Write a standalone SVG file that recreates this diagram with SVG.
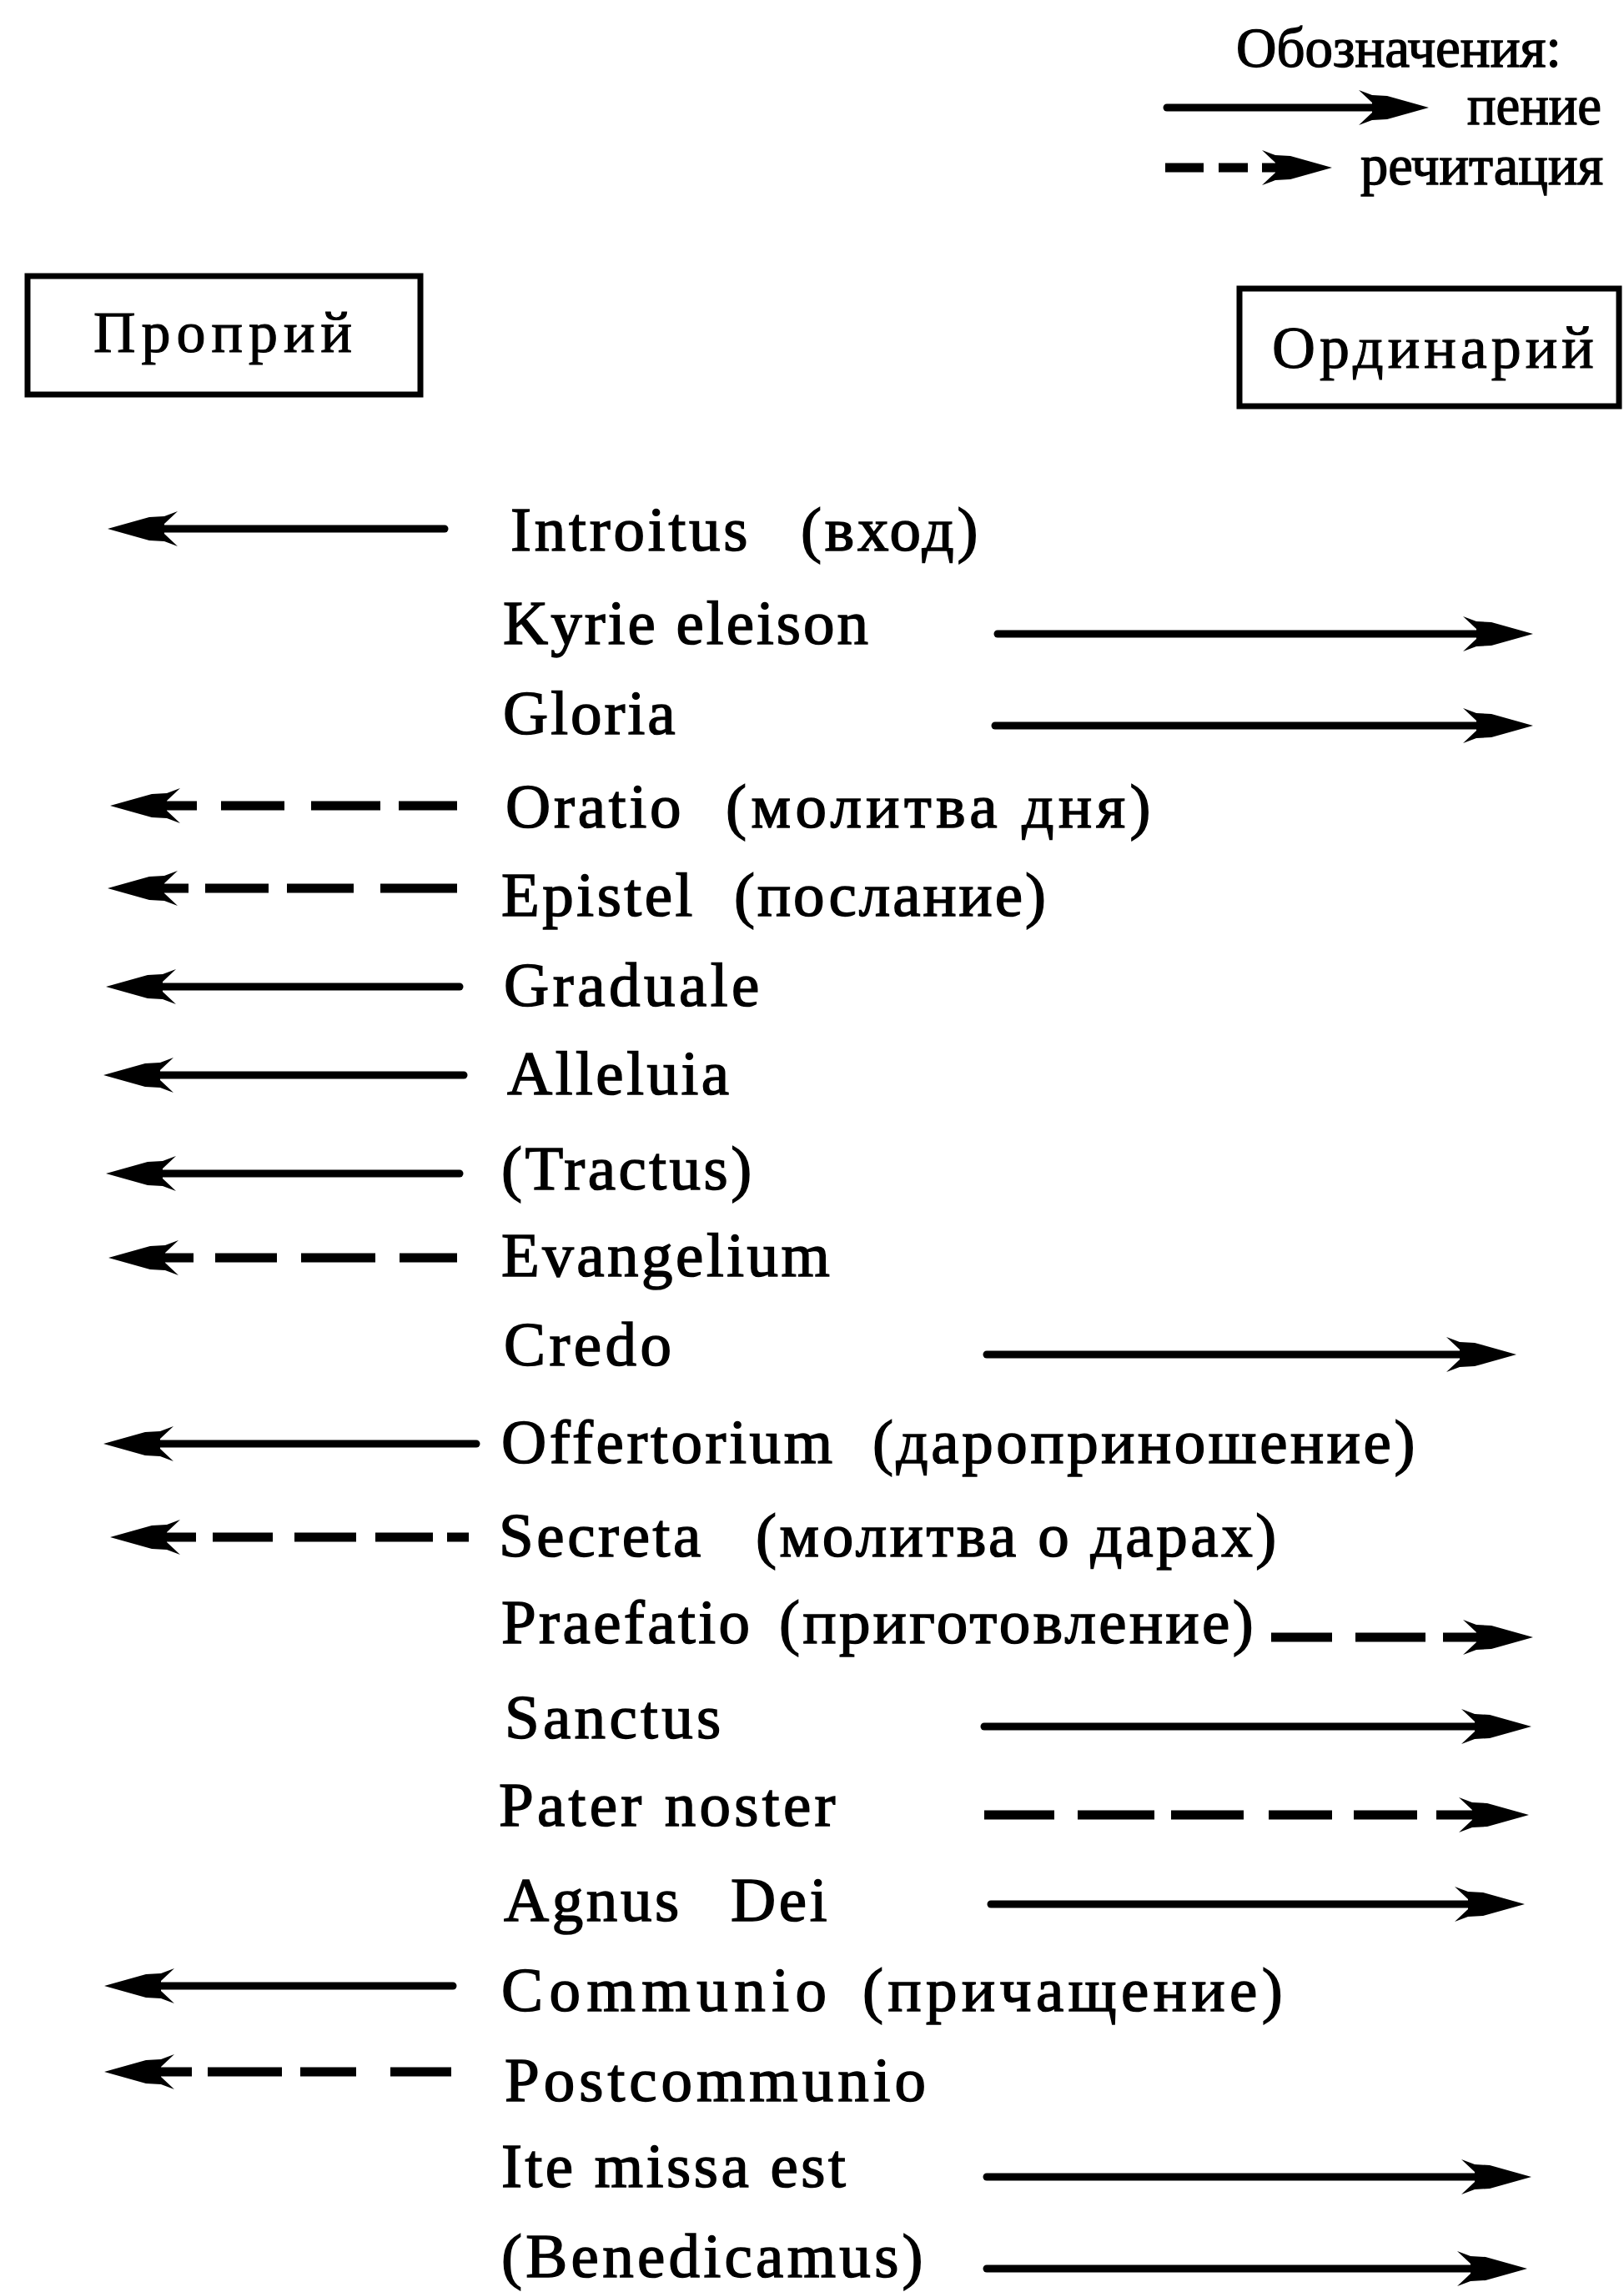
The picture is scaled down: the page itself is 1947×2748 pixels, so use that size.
<svg xmlns="http://www.w3.org/2000/svg" width="1947" height="2748" viewBox="0 0 1947 2748">
<style>
  .bg { fill: #ffffff; }
  .box { fill: none; stroke: #000; stroke-width: 7; }
  .lbl { font-family: "Liberation Serif", "Times New Roman", serif; font-size: 75px; fill: #000; stroke: #000; stroke-width: 1.5px; }
  .hdr { font-family: "Liberation Serif", "Times New Roman", serif; fill: #000; stroke: #000; stroke-width: 1.1px; }
  .leg { font-family: "Liberation Serif", "Times New Roman", serif; font-size: 67px; fill: #000; stroke: #000; stroke-width: 1.4px; }
  .solid { fill: none; stroke: #000; stroke-width: 9; stroke-linecap: round; marker-end: url(#head); }
  .dash { fill: none; stroke: #000; stroke-width: 11; stroke-linecap: butt; }
  .dashend { fill: none; stroke: #000; stroke-width: 11; stroke-linecap: butt; marker-end: url(#head); }
</style>
<defs>
  <marker id="head" markerUnits="userSpaceOnUse" viewBox="-2 -23 90 46" markerWidth="90" markerHeight="46" refX="22" refY="0" orient="auto">
    <path d="M84,0 L34,-14 L16,-15 L0,-21 L16,-6 L16,6 L0,21 L16,15 L34,14 Z" fill="#000"/>
  </marker>
</defs>
<rect class="bg" x="0" y="0" width="1947" height="2748"/>

<g id="legend">
  <text class="leg" x="1482" y="80" textLength="390" lengthAdjust="spacingAndGlyphs">Обозначения:</text>
  <text class="leg" x="1759" y="149" textLength="161" lengthAdjust="spacingAndGlyphs">пение</text>
  <text class="leg" x="1631" y="221" textLength="291" lengthAdjust="spacingAndGlyphs">речитация</text>
</g>

<g id="proprium">
  <rect class="box" x="33" y="331" width="471" height="142"/>
  <text class="hdr" x="112" y="422" style="font-size:70px;letter-spacing:7px">Проприй</text>
</g>
<g id="ordinarium">
  <rect class="box" x="1486" y="346" width="455" height="141"/>
  <text class="hdr" x="1525" y="441" style="font-size:72px;letter-spacing:5px">Ординарий</text>
</g>

<g id="items">
  <g id="introitus"><text class="lbl" x="612" y="660" style="letter-spacing:3.8px">Introitus<tspan x="960">(вход)</tspan></text></g>
  <g id="kyrie"><text class="lbl" x="603" y="772" style="letter-spacing:3px">Kyrie eleison</text></g>
  <g id="gloria"><text class="lbl" x="603" y="880" style="letter-spacing:3px">Gloria</text></g>
  <g id="oratio"><text class="lbl" x="606" y="992" style="letter-spacing:3.8px">Oratio<tspan x="870" style="letter-spacing:5.5px">(молитва дня)</tspan></text></g>
  <g id="epistel"><text class="lbl" x="601" y="1098" style="letter-spacing:3.5px">Epistel<tspan x="880" style="letter-spacing:3px">(послание)</tspan></text></g>
  <g id="graduale"><text class="lbl" x="604" y="1206" style="letter-spacing:4.5px">Graduale</text></g>
  <g id="alleluia"><text class="lbl" x="608" y="1312" style="letter-spacing:3.5px">Alleluia</text></g>
  <g id="tractus"><text class="lbl" x="601" y="1426" style="letter-spacing:3.5px">(Tractus)</text></g>
  <g id="evangelium"><text class="lbl" x="601" y="1530" style="letter-spacing:3.5px">Evangelium</text></g>
  <g id="credo"><text class="lbl" x="604" y="1637" style="letter-spacing:4.4px">Credo</text></g>
  <g id="offertorium"><text class="lbl" x="601" y="1754" style="letter-spacing:3.6px">Offertorium<tspan x="1046">(дароприношение)</tspan></text></g>
  <g id="secreta"><text class="lbl" x="598" y="1866" style="letter-spacing:3.6px">Secreta<tspan x="906">(молитва о дарах)</tspan></text></g>
  <g id="praefatio"><text class="lbl" x="601" y="1970" style="letter-spacing:3.4px">Praefatio<tspan x="934">(приготовление)</tspan></text></g>
  <g id="sanctus"><text class="lbl" x="605" y="2084" style="letter-spacing:4.3px">Sanctus</text></g>
  <g id="pater"><text class="lbl" x="598" y="2189" style="letter-spacing:4.3px">Pater noster</text></g>
  <g id="agnus"><text class="lbl" x="604" y="2303" style="letter-spacing:3.6px">Agnus<tspan x="876">Dei</tspan></text></g>
  <g id="communio"><text class="lbl" x="601" y="2411" style="letter-spacing:7.5px">Communio<tspan x="1034" style="letter-spacing:5.5px">(причащение)</tspan></text></g>
  <g id="postcommunio"><text class="lbl" x="605" y="2519" style="letter-spacing:5px">Postcommunio</text></g>
  <g id="ite"><text class="lbl" x="601" y="2622" style="letter-spacing:3.5px">Ite missa est</text></g>
  <g id="benedicamus"><text class="lbl" x="601" y="2730" style="letter-spacing:4.3px">(Benedicamus)</text></g>
</g>

<g id="connectors">
  <!-- legend -->
  <path class="solid" d="M1399,129 L1651,129"/>
  <path class="dash" d="M1397,201 L1443,201 M1461,201 L1496,201"/>
  <path class="dashend" d="M1513,201 L1535,201"/>

  <!-- left solid (Proprium) -->
  <path class="solid" d="M533,634 L191,634"/>
  <path class="solid" d="M551,1183 L189,1183"/>
  <path class="solid" d="M556,1289 L186,1289"/>
  <path class="solid" d="M551,1407 L189,1407"/>
  <path class="solid" d="M571,1731 L186,1731"/>
  <path class="solid" d="M543,2381 L187,2381"/>

  <!-- left dashed (Proprium) -->
  <path class="dash" d="M548,966 L478,966 M456,966 L373,966 M341,966 L265,966"/>
  <path class="dashend" d="M236,966 L194,966"/>
  <path class="dash" d="M548,1065 L456,1065 M424,1065 L344,1065 M322,1065 L246,1065"/>
  <path class="dashend" d="M226,1065 L191,1065"/>
  <path class="dash" d="M548,1508 L479,1508 M450,1508 L361,1508 M332,1508 L258,1508"/>
  <path class="dashend" d="M232,1508 L192,1508"/>
  <path class="dash" d="M562,1843 L536,1843 M519,1843 L450,1843 M427,1843 L353,1843 M327,1843 L255,1843"/>
  <path class="dashend" d="M235,1843 L194,1843"/>
  <path class="dash" d="M541,2484 L468,2484 M427,2484 L360,2484 M338,2484 L249,2484"/>
  <path class="dashend" d="M230,2484 L187,2484"/>

  <!-- right solid (Ordinarium) -->
  <path class="solid" d="M1196,760 L1776,760"/>
  <path class="solid" d="M1193,870 L1776,870"/>
  <path class="solid" d="M1183,1624 L1756,1624"/>
  <path class="solid" d="M1180,2070 L1774,2070"/>
  <path class="solid" d="M1188,2283 L1766,2283"/>
  <path class="solid" d="M1183,2610 L1774,2610"/>
  <path class="solid" d="M1183,2720 L1769,2720"/>

  <!-- right dashed (Ordinarium) -->
  <path class="dash" d="M1524,1963 L1597,1963 M1625,1963 L1709,1963"/>
  <path class="dashend" d="M1730,1963 L1776,1963"/>
  <path class="dash" d="M1180,2176 L1264,2176 M1292,2176 L1384,2176 M1404,2176 L1491,2176 M1521,2176 L1597,2176 M1623,2176 L1699,2176"/>
  <path class="dashend" d="M1722,2176 L1771,2176"/>
</g>
</svg>
